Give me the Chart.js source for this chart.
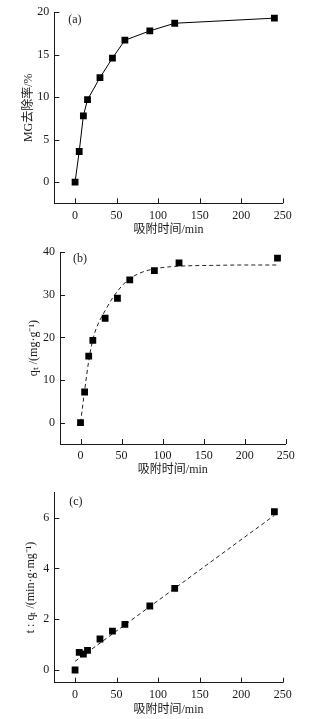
<!DOCTYPE html>
<html>
<head>
<meta charset="utf-8">
<script src="https://cdn.jsdelivr.net/npm/chart.js@4/dist/chart.umd.min.js"></script>
<style>
  html, body { margin: 0; padding: 0; background: #fff; }
  .panel { position: absolute; left: 0; width: 336px; }
  canvas { display: block; }
</style>
</head>
<body>
<div class="panel" style="top:0;height:240px"><canvas id="ca" width="336" height="240"></canvas></div>
<div class="panel" style="top:240px;height:240px"><canvas id="cb" width="336" height="240"></canvas></div>
<div class="panel" style="top:480px;height:239px"><canvas id="cc" width="336" height="239"></canvas></div>
<script>
// ---- data ----
const times = [0, 5, 10, 15, 30, 45, 60, 90, 120, 240];
const removalRate = [0, 3.6, 7.8, 9.7, 12.3, 14.6, 16.7, 17.8, 18.7, 19.3];
const qt = [0, 7.2, 15.6, 19.3, 24.5, 29.2, 33.5, 35.7, 37.5, 38.6];
const tOverQt = [0, 0.69, 0.63, 0.77, 1.22, 1.53, 1.80, 2.52, 3.21, 6.23];
const fitTimeB = [0, 5, 10, 15, 20, 30, 40, 50, 60, 75, 90, 110, 130, 160, 200, 240];
const fitQtB = [0, 7.5, 14.5, 19.5, 22.5, 26.3, 29.5, 32.0, 33.8, 35.3, 36.1, 36.6, 36.8, 36.9, 37.0, 37.0];
const fitTimeC = [0, 240];
const fitTC = [0.34, 6.09];
const xTickLabels = [0, 50, 100, 150, 200, 250];
const panelLabels = ['(a)', '(b)', '(c)'];

const pairs = (xs, ys) => xs.map((x, i) => ({ x: x, y: ys[i] }));
const INK = '#1a1a1a';
const serif = '"Liberation Serif", "Noto Sans CJK SC", serif';

const inwardTicks = {
  id: 'inwardTicks',
  afterDraw(chart, args, opts) {
    const { ctx, chartArea: a, scales: { x, y } } = chart;
    ctx.save();
    ctx.strokeStyle = INK;
    ctx.lineWidth = 1;
    ctx.beginPath();
    x.ticks.forEach(t => {
      const px = Math.round(x.getPixelForValue(t.value)) + 0.5;
      ctx.moveTo(px, a.bottom);
      ctx.lineTo(px, a.bottom - 5);
    });
    y.ticks.forEach(t => {
      const py = Math.round(y.getPixelForValue(t.value)) + 0.5;
      ctx.moveTo(a.left, py);
      ctx.lineTo(a.left + 5, py);
    });
    ctx.stroke();
    ctx.fillStyle = INK;
    ctx.font = '12px ' + serif;
    ctx.textBaseline = 'middle';
    ctx.textAlign = 'left';
    ctx.fillText(opts.label, a.left + opts.dx, a.top + opts.dy);
    ctx.restore();
  }
};

function makeChart(id, cfg) {
  const xScale = {
    type: 'linear', min: -25, max: 250,
    grid: { display: false, drawTicks: false },
    border: { display: true, color: INK, width: 1 },
    ticks: { stepSize: 50, color: INK, padding: 5, font: { family: serif, size: 12 } },
    afterBuildTicks: s => { s.ticks = xTickLabels.map(v => ({ value: v })); },
    afterFit: s => { s.height = cfg.xH; },
    title: { display: true, text: '吸附时间/min', color: INK, font: { family: serif, size: 12 }, padding: { top: 0, bottom: cfg.xTitlePad } }
  };
  const yScale = {
    type: 'linear', min: cfg.yMin, max: cfg.yMax,
    grid: { display: false, drawTicks: false },
    border: { display: true, color: INK, width: 1 },
    ticks: { stepSize: cfg.yStep, color: INK, padding: 5, font: { family: serif, size: 12 } },
    afterBuildTicks: s => { s.ticks = cfg.yTicks.map(v => ({ value: v })); },
    afterFit: s => { s.width = cfg.yW; },
    title: { display: true, text: cfg.yTitle, color: INK, font: { family: serif, size: 12 }, padding: { top: cfg.yTitlePad, bottom: 0 } }
  };
  return new Chart(document.getElementById(id), {
    type: 'scatter',
    data: { datasets: cfg.datasets },
    options: {
      responsive: false,
      animation: false,
      layout: { padding: { top: cfg.top, right: cfg.right, left: 0, bottom: 0 } },
      scales: { x: xScale, y: yScale },
      plugins: {
        legend: { display: false },
        tooltip: { enabled: false },
        inwardTicks: { label: cfg.label, dx: cfg.ldx, dy: cfg.ldy }
      }
    },
    plugins: [inwardTicks]
  });
}

const pointStyle = { pointStyle: 'rect', pointRadius: 4.8, backgroundColor: '#000', borderColor: '#000', borderWidth: 0 };

makeChart('ca', {
  xH: 36.7, yW: 54.3, top: 12, right: 53.3, xTitlePad: 3, yTitlePad: 22,
  yMin: -2.5, yMax: 20, yStep: 5, yTicks: [0, 5, 10, 15, 20],
  yTitle: 'MG去除率/%', label: panelLabels[0], ldx: 14, ldy: 8,
  datasets: [
    Object.assign({ data: pairs(times, removalRate), showLine: true, pointBorderWidth: 0, pointBackgroundColor: '#000' }, pointStyle, { borderColor: '#000', borderWidth: 1 })
  ]
});

makeChart('cb', {
  xH: 36, yW: 60, top: 11, right: 50.3, xTitlePad: 3, yTitlePad: 27,
  yMin: -5, yMax: 40, yStep: 10, yTicks: [0, 10, 20, 30, 40],
  yTitle: 'qₜ /(mg·g⁻¹)', label: panelLabels[1], ldx: 13, ldy: 7,
  datasets: [
    Object.assign({ data: pairs(times, qt), showLine: false }, pointStyle),
    { data: pairs(fitTimeB, fitQtB), showLine: true, pointRadius: 0, borderColor: '#222', borderWidth: 1, borderDash: [4, 3], cubicInterpolationMode: 'monotone' }
  ]
});

makeChart('cc', {
  xH: 36.3, yW: 54.3, top: 5, right: 53.3, xTitlePad: 2, yTitlePad: 24,
  yMin: -0.5, yMax: 7, yStep: 2, yTicks: [0, 2, 4, 6],
  yTitle: 't : qₜ /(min·g·mg⁻¹)', label: panelLabels[2], ldx: 15, ldy: 10,
  datasets: [
    Object.assign({ data: pairs(times, tOverQt), showLine: false }, pointStyle),
    { data: pairs(fitTimeC, fitTC), showLine: true, pointRadius: 0, borderColor: '#222', borderWidth: 1, borderDash: [4, 3] }
  ]
});
</script>
</body>
</html>
